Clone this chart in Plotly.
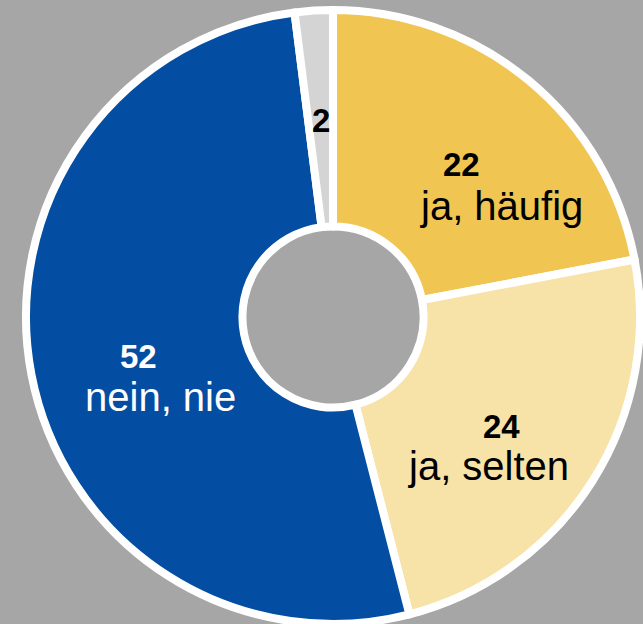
import plotly.graph_objects as go

W, H = 643, 624

# data
labels = ["ja, häufig", "ja, selten", "nein, nie", "keine Angabe"]
values = [22, 24, 52, 2]
slice_colors = ["#f0c552", "#f7e3a8", "#034ea2", "#d4d4d4"]


def px(x, y):
    # pixel position -> paper coordinates
    return x / W, 1 - y / H


fig = go.Figure(go.Pie(
    labels=labels,
    values=values,
    sort=False,
    direction="clockwise",
    rotation=0,
    hole=0.295,
    marker=dict(colors=slice_colors, line=dict(color="white", width=8)),
    textinfo="none",
    hoverinfo="label+value",
    showlegend=False,
    domain=dict(x=[26 / W, 640 / W], y=[0, 614 / H]),
))

# text labels: (slice index, number pos, label pos, colour)
label_spec = [
    (0, (461, 165), (502, 206), "black"),
    (1, (501, 426), (488, 466), "black"),
    (2, (138, 356), (160, 397), "white"),
    (3, (321, 121), None, "black"),
]

annotations = []
for i, npos, lpos, col in label_spec:
    x, y = px(*npos)
    annotations.append(dict(
        x=x, y=y, xref="paper", yref="paper", showarrow=False,
        text="<b>%d</b>" % values[i],
        font=dict(family="Liberation Sans, Arial", size=33, color=col),
        xanchor="center", yanchor="middle",
    ))
    if lpos is not None:
        x, y = px(*lpos)
        annotations.append(dict(
            x=x, y=y, xref="paper", yref="paper", showarrow=False,
            text=labels[i],
            font=dict(family="Liberation Sans, Arial", size=40, color=col),
            xanchor="center", yanchor="middle",
        ))

fig.update_layout(
    width=W, height=H,
    margin=dict(l=0, r=0, t=0, b=0),
    paper_bgcolor="#a6a6a6",
    plot_bgcolor="#a6a6a6",
    annotations=annotations,
)

fig.write_html(
    "out.html",
    config={"displayModeBar": False},
    post_script="document.body.style.margin='0';document.body.style.background='#a6a6a6';",
)
